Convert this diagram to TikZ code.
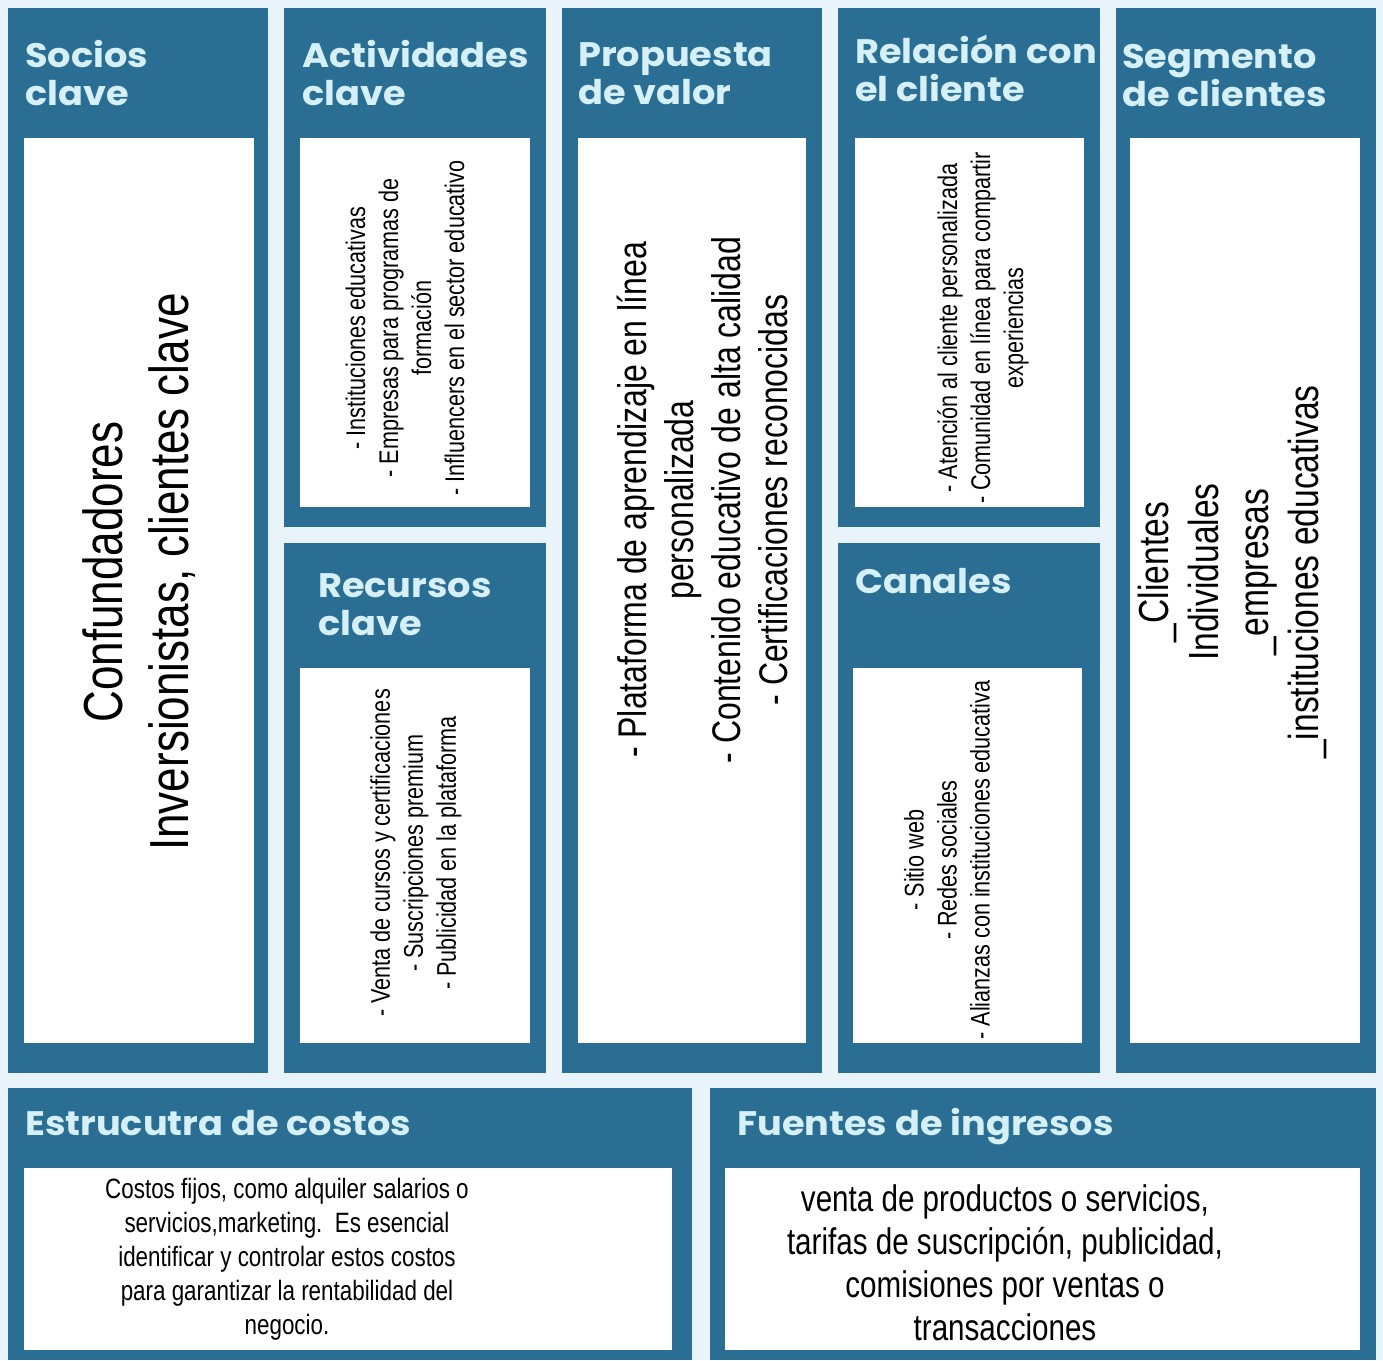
\documentclass[tikz,border=0pt]{standalone}
\usepackage{fontspec}
\setmainfont{Liberation Sans}
\newfontfamily\headfont[FakeStretch=1.08]{Poppins}
\newfontfamily\narrowfont[FakeStretch=0.8]{Liberation Sans}
\definecolor{canvasblue}{RGB}{43,110,147}
\definecolor{headtext}{RGB}{214,240,250}
\definecolor{gapblue}{RGB}{232,244,249}
\tikzset{panel/.style={fill=canvasblue}}
\tikzset{sheet/.style={fill=white}}
\tikzset{head/.style={anchor=base west, align=left, inner sep=0pt, text=headtext, font=\headfont\bfseries\fontsize{34}{38}\selectfont}}
\tikzset{body/.style={rotate=90, align=center, inner sep=0pt, font=\narrowfont\fontsize{27}{33}\selectfont}}

\begin{document}
\begin{tikzpicture}[x=1pt, y=-1pt]
    \fill[gapblue](0, 0) rectangle (1383, 1360);
    \useasboundingbox(0, 0) rectangle (1383, 1360);
    % top row
    \fill[panel](8, 8) rectangle (268, 1073);
    \fill[sheet](24, 138) rectangle (254, 1043);
    \fill[panel](284, 8) rectangle (546, 527);
    \fill[sheet](300, 138) rectangle (530, 507);
    \fill[panel](284, 543) rectangle (546, 1073);
    \fill[sheet](300, 668) rectangle (530, 1043);
    \fill[panel](562, 8) rectangle (822, 1073);
    \fill[sheet](578, 138) rectangle (806, 1043);
    \fill[panel](838, 8) rectangle (1100, 527);
    \fill[sheet](855, 138) rectangle (1084, 507);
    \fill[panel](838, 543) rectangle (1100, 1073);
    \fill[sheet](853, 668) rectangle (1082, 1043);
    \fill[panel](1116, 8) rectangle (1376, 1073);
    \fill[sheet](1130, 138) rectangle (1360, 1043);
    % bottom row
    \fill[panel](8, 1088) rectangle (692, 1360);
    \fill[sheet](24, 1168) rectangle (672, 1350);
    \fill[panel](710, 1088) rectangle (1376, 1360);
    \fill[sheet](725, 1168) rectangle (1360, 1350);

    % headings (base = last line)
    \node[head](socios) at (25, 105){Socios\\clave};
    \node[head](actividades) at (302, 105){Actividades\\clave};
    \node[head](recursos) at (318, 635){Recursos\\clave};
    \node[head](propuesta) at (578, 104){Propuesta\\de valor};
    \node[head](relacion) at (855, 101){Relación con\\el cliente};
    \node[head](canales) at (855, 593){Canales};
    \node[head](segmento) at (1122, 106){Segmento\\de clientes};
    \node[head](costos) at (25, 1135){Estrucutra de costos};
    \node[head](ingresos) at (737, 1135){Fuentes de ingresos};

    \node[body, font=\narrowfont\fontsize{55}{66}\selectfont](sociostxt) at (139, 572){Confundadores\\Inversionistas, clientes clave};
    \node[body](actividadestxt) at (405, 328){- Instituciones educativas\\- Empresas para programas de\\formación\\- Influencers en el sector educativo};
    \node[body](recursostxt) at (416, 853){- Venta de cursos y certificaciones\\- Suscripciones premium\\- Publicidad en la plataforma};
    \node[body, font=\narrowfont\fontsize{40}{47}\selectfont](propuestatxt) at (702, 500){- Plataforma de aprendizaje en línea\\personalizada\\- Contenido educativo de alta calidad\\- Certificaciones reconocidas};
    \node[body](relaciontxt) at (983, 328){- Atención al cliente personalizada\\- Comunidad en línea para compartir\\experiencias};
    \node[body](canalestxt) at (947, 860){- Sitio web\\- Redes sociales\\- Alianzas con instituciones educativa};
    \node[body, font=\narrowfont\fontsize{42}{50}\selectfont](segmentotxt) at (1232, 572){\_Clientes\\Individuales\\\_empresas\\\_instituciones educativas};
    \node[body, rotate=-90, font=\narrowfont\fontsize{28}{34}\selectfont](costostxt) at (287, 1259){Costos fijos, como alquiler salarios o\\servicios,marketing.\ \ Es esencial\\identificar y controlar estos costos\\para garantizar la rentabilidad del\\negocio.};
    \node[body, rotate=-90, font=\narrowfont\fontsize{37}{43}\selectfont](ingresostxt) at (1005, 1263){venta de productos o servicios,\\tarifas de suscripción, publicidad,\\comisiones por ventas o\\transacciones};
\end{tikzpicture}
\end{document}
